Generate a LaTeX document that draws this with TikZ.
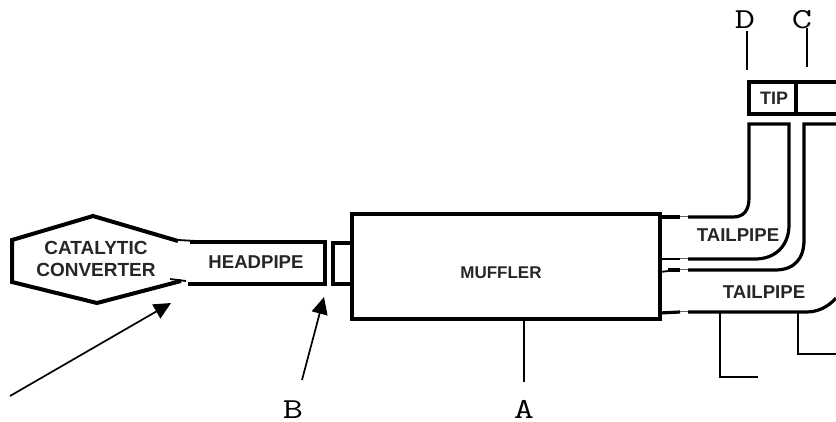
\documentclass[tikz,border=0pt]{standalone}
\usepackage{graphicx}
\usepackage{fontspec}
\setmainfont{Liberation Sans}
\usetikzlibrary{arrows.meta}
\tikzset{
  pipe/.style={draw=black,line width=3.2pt,line join=miter},
  heavypipe/.style={draw=black,line width=4pt,line join=miter},
  thinpipe/.style={draw=black,line width=1.8pt},
  bridge/.style={draw=black!60,line width=0.9pt},
  lead/.style={draw=black,line width=1.5pt},
  pointer/.style={draw=black,line width=1.7pt,-{Triangle[length=17pt,width=16pt]}},
  part/.style={font=\fontsize{18.6}{20}\selectfont\bfseries,text=black!85,inner sep=0pt,align=center},
  letter/.style={font=\fontsize{29}{29}\selectfont\ttfamily,text=black,inner sep=0pt,anchor=base}
}
\newcommand{\wideletter}[1]{\scalebox{1.35}[1]{#1}}
\begin{document}
\begin{tikzpicture}[x=1pt,y=-1pt]
\useasboundingbox (0,0) rectangle (836,421);
% catalytic converter
\draw[heavypipe] (178,241) -- (93,216) -- (12,240) -- (12,282) -- (97,303) -- (181,281);
\draw[thinpipe] (178,240) -- (215,242);
\draw[thinpipe] (170,279) -- (186,281);
% headpipe
\draw[pipe] (190,242) -- (325,242) -- (325,284) -- (188,284);
% stub and muffler
\draw[pipe] (352,243) -- (333,243) -- (333,284) -- (352,284);
\draw[pipe] (352,214) rectangle (660,319);
% upper tailpipe
\draw[pipe] (660,217) -- (680,217);
\draw[bridge] (680,216) -- (688,216);
\draw[pipe] (688,217) -- (733,217) .. controls (744,217) and (749,210) .. (749,198) -- (749,124) -- (789,124) -- (789,225) .. controls (789,245) and (776,259) .. (755,259) -- (688,259);
\draw[thinpipe] (660,259) -- (680,259);
\draw[bridge] (680,258) -- (688,258);
% lower tailpipe
\draw[pipe] (836,124) -- (804,124) -- (804,240) .. controls (804,258) and (795,270) .. (775,270) -- (688,270);
\draw[pipe] (668,270) -- (680,270);
\draw[bridge] (680,269) -- (688,269);
\draw[thinpipe] (660,272) -- (668,271);
\draw[pipe] (660,313) -- (680,312);
\draw[bridge] (680,311) -- (688,311);
\draw[pipe] (688,312) -- (806,312) .. controls (818,312) and (828,307) .. (836,298);
% tip
\draw[pipe] (836,82) -- (749,82) -- (749,114) -- (836,114);
\draw[pipe] (796,82) -- (796,114);
% labels
\node[part,font=\fontsize{19}{22}\selectfont\bfseries] (cat) at (96,259) {CATALYTIC\\CONVERTER};
\node[part] (head) at (256,262) {HEADPIPE};
\node[part,font=\fontsize{17}{20}\selectfont\bfseries] (muf) at (501,273) {MUFFLER};
\node[part] (tail1) at (738,235) {TAILPIPE};
\node[part] (tail2) at (764,292) {TAILPIPE};
\node[part,font=\fontsize{18}{20}\selectfont\bfseries] (tip) at (774,98) {TIP};
% letters
\node[letter] (lb) at (293,418) {\wideletter{B}};
\node[letter] (la) at (524,418) {\wideletter{A}};
\node[letter] (ld) at (745,28) {\wideletter{D}};
\node[letter] (lc) at (802,28) {\wideletter{C}};
% leaders
\coordinate (a1) at (10,396); \coordinate (a2) at (171,303);
\coordinate (b1) at (302,380); \coordinate (b2) at (324,297);
\draw[pointer] (a1) -- (a2);
\draw[pointer] (b1) -- (b2);
\coordinate (m) at (524,320); \coordinate (m2) at (524,382);
\draw[lead] (m) -- (m2);
\coordinate (d1) at (747,31); \coordinate (d2) at (747,70);
\draw[lead] (d1) -- (d2);
\coordinate (c1) at (807,28); \coordinate (c2) at (807,67);
\draw[lead] (c1) -- (c2);
\coordinate (e1) at (720,312); \coordinate (e2) at (720,377); \coordinate (e3) at (758,377);
\draw[lead] (e1) -- (e2) -- (e3);
\coordinate (f1) at (798,312); \coordinate (f2) at (798,354); \coordinate (f3) at (836,354);
\draw[lead] (f1) -- (f2) -- (f3);
\end{tikzpicture}
\end{document}
